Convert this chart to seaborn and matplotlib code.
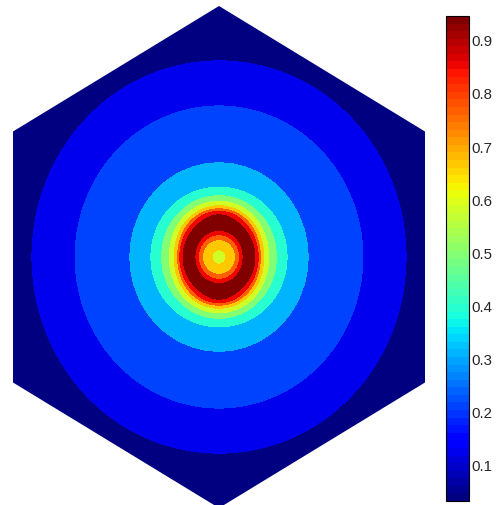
import numpy as np
import matplotlib
matplotlib.use("Agg")
import matplotlib.pyplot as plt
import seaborn as sns
from matplotlib.patches import Polygon
from matplotlib.colors import Normalize

# radial profile (radius in units of the hexagon circumradius)
# one along the horizontal axis, one along the vertical axis (field is a bit stretched)
radius_h = [0.0, 0.029, 0.070, 0.087, 0.101, 0.126, 0.151, 0.165, 0.174, 0.188, 0.209, 0.241, 0.286, 0.374, 0.605, 0.786, 1.0]
radius_v = [0.0, 0.029, 0.070, 0.089, 0.106, 0.137, 0.169, 0.182, 0.192, 0.204, 0.222, 0.244, 0.278, 0.375, 0.602, 0.781, 1.0]
profile_val = [0.58, 0.625, 0.716, 0.808, 0.899, 0.945, 0.899, 0.808, 0.716, 0.625, 0.534,
               0.442, 0.351, 0.259, 0.168, 0.077, 0.031]

# contour boundaries and the value used to colour each band
levels = [0.077, 0.168, 0.259, 0.351, 0.442, 0.534, 0.625, 0.716, 0.808, 0.899]
band_vals = [0.031, 0.122, 0.214, 0.305, 0.397, 0.488, 0.579, 0.671, 0.762, 0.854, 0.945]

cbar_ticks = [0.1, 0.2, 0.3, 0.4, 0.5, 0.6, 0.7, 0.8, 0.9]
vmin, vmax = 0.031, 0.945

sns.set_style("white")
plt.rcParams["font.family"] = ["Liberation Sans", "DejaVu Sans"]

cmap = plt.get_cmap("jet", 64)
norm = Normalize(vmin=vmin, vmax=vmax)

s3 = np.sqrt(3) / 2
x = np.linspace(-s3, s3, 700)
y = np.linspace(-1, 1, 800)
X, Y = np.meshgrid(x, y)
R = np.hypot(X, Y)
T = np.arctan2(Y, X)
Z = np.cos(T) ** 2 * np.interp(R, radius_h, profile_val) + np.sin(T) ** 2 * np.interp(R, radius_v, profile_val)

fig = plt.figure(figsize=(5, 5.06), dpi=100)
ax = fig.add_axes([0.026, -0.00593, 0.824, 0.99209])
ax.set_xlim(-s3, s3)
ax.set_ylim(-1, 1)
ax.axis("off")

bounds = [0.0] + levels + [1.0]
colors = [cmap(norm(v)) for v in band_vals]
cs = ax.contourf(X, Y, Z, levels=bounds, colors=colors)

hexagon = Polygon([(0, 1), (s3, 0.5), (s3, -0.5), (0, -1), (-s3, -0.5), (-s3, 0.5)],
                  closed=True, facecolor="none", edgecolor="none", transform=ax.transData)
ax.add_patch(hexagon)
cs.set_clip_path(hexagon)

cax = fig.add_axes([0.892, 0.0079, 0.046, 0.9585])
sm = plt.cm.ScalarMappable(norm=norm, cmap=cmap)
cb = fig.colorbar(sm, cax=cax, ticks=cbar_ticks)
cb.outline.set_linewidth(0.8)
cb.outline.set_edgecolor("black")
cax.tick_params(direction="in", left=True, right=True, length=4, width=0.6,
                color="black", labelsize=10.8, pad=2)

fig.savefig("out.png", dpi=100)
